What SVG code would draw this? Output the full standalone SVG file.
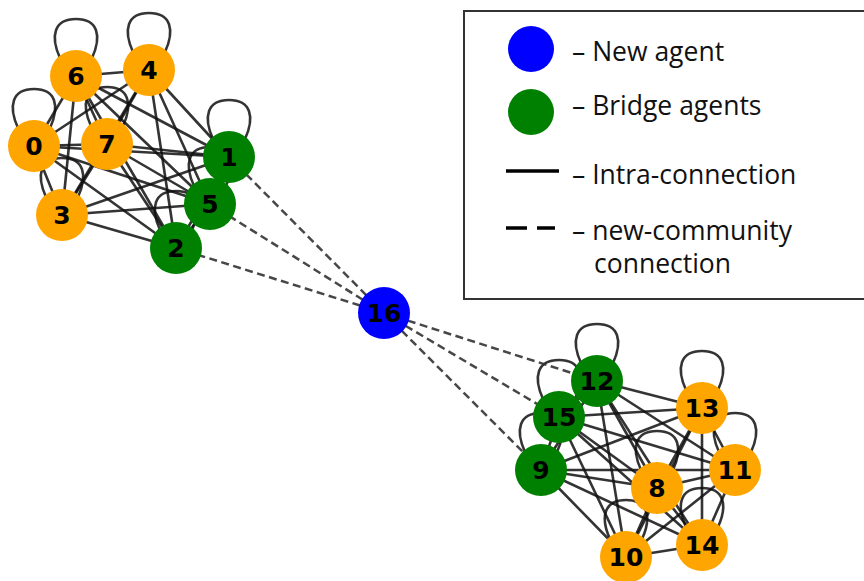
<svg xmlns="http://www.w3.org/2000/svg" xmlns:xlink="http://www.w3.org/1999/xlink" width="864" height="581" viewBox="0 0 864 581">
  <style>
    .edge { stroke: #111; stroke-opacity: 0.85; stroke-width: 2.6; fill: none; stroke-linecap: round; }
    .bridge { stroke: #333; stroke-opacity: 0.9; stroke-width: 2.5; fill: none; stroke-dasharray: 8 4.5; }
    .orange { fill: #FFA500; }
    .green { fill: #008000; }
    .blue { fill: #0000FF; }
    .lbl { font-family: "DejaVu Sans", sans-serif; font-weight: bold; font-size: 25px; fill: #000; text-anchor: middle; dominant-baseline: central; }
    .leg { font-family: "Open Sans", "Noto Sans", sans-serif; font-size: 26.5px; fill: #111; }
  </style>
  <defs>
    <path id="loop" d="M-16,-18 C-26,-40 -22,-57 0,-57 C22,-57 26,-40 16,-18"/>
  </defs>
  <rect width="864" height="581" fill="#fff"/>

  <!-- connectors -->
  <g id="connectors">
    <g id="self-loops" class="edge">
      <use xlink:href="#loop" x="34" y="146"/>
      <use xlink:href="#loop" x="229" y="157"/>
      <use xlink:href="#loop" x="176" y="248"/>
      <use xlink:href="#loop" x="62" y="215"/>
      <use xlink:href="#loop" x="149" y="70"/>
      <use xlink:href="#loop" x="210" y="204"/>
      <use xlink:href="#loop" x="76" y="76"/>
      <use xlink:href="#loop" x="107" y="144"/>
      <use xlink:href="#loop" x="657" y="488"/>
      <use xlink:href="#loop" x="541" y="470"/>
      <use xlink:href="#loop" x="626" y="557"/>
      <use xlink:href="#loop" x="735" y="470"/>
      <use xlink:href="#loop" x="597" y="381"/>
      <use xlink:href="#loop" x="702" y="408"/>
      <use xlink:href="#loop" x="702" y="545"/>
      <use xlink:href="#loop" x="559" y="417"/>
    </g>
    <g id="community-a" class="edge">
      <line x1="34" y1="146" x2="229" y2="157"/>
      <line x1="34" y1="146" x2="176" y2="248"/>
      <line x1="34" y1="146" x2="62" y2="215"/>
      <line x1="34" y1="146" x2="149" y2="70"/>
      <line x1="34" y1="146" x2="210" y2="204"/>
      <line x1="34" y1="146" x2="76" y2="76"/>
      <line x1="34" y1="146" x2="107" y2="144"/>
      <line x1="229" y1="157" x2="176" y2="248"/>
      <line x1="229" y1="157" x2="62" y2="215"/>
      <line x1="229" y1="157" x2="149" y2="70"/>
      <line x1="229" y1="157" x2="210" y2="204"/>
      <line x1="229" y1="157" x2="76" y2="76"/>
      <line x1="229" y1="157" x2="107" y2="144"/>
      <line x1="176" y1="248" x2="62" y2="215"/>
      <line x1="176" y1="248" x2="149" y2="70"/>
      <line x1="176" y1="248" x2="210" y2="204"/>
      <line x1="176" y1="248" x2="76" y2="76"/>
      <line x1="176" y1="248" x2="107" y2="144"/>
      <line x1="62" y1="215" x2="149" y2="70"/>
      <line x1="62" y1="215" x2="210" y2="204"/>
      <line x1="62" y1="215" x2="76" y2="76"/>
      <line x1="62" y1="215" x2="107" y2="144"/>
      <line x1="149" y1="70" x2="210" y2="204"/>
      <line x1="149" y1="70" x2="76" y2="76"/>
      <line x1="149" y1="70" x2="107" y2="144"/>
      <line x1="210" y1="204" x2="76" y2="76"/>
      <line x1="210" y1="204" x2="107" y2="144"/>
      <line x1="76" y1="76" x2="107" y2="144"/>
    </g>
    <g id="community-b" class="edge">
      <line x1="657" y1="488" x2="541" y2="470"/>
      <line x1="657" y1="488" x2="626" y2="557"/>
      <line x1="657" y1="488" x2="735" y2="470"/>
      <line x1="657" y1="488" x2="597" y2="381"/>
      <line x1="657" y1="488" x2="702" y2="408"/>
      <line x1="657" y1="488" x2="702" y2="545"/>
      <line x1="657" y1="488" x2="559" y2="417"/>
      <line x1="541" y1="470" x2="626" y2="557"/>
      <line x1="541" y1="470" x2="735" y2="470"/>
      <line x1="541" y1="470" x2="597" y2="381"/>
      <line x1="541" y1="470" x2="702" y2="408"/>
      <line x1="541" y1="470" x2="702" y2="545"/>
      <line x1="541" y1="470" x2="559" y2="417"/>
      <line x1="626" y1="557" x2="735" y2="470"/>
      <line x1="626" y1="557" x2="597" y2="381"/>
      <line x1="626" y1="557" x2="702" y2="408"/>
      <line x1="626" y1="557" x2="702" y2="545"/>
      <line x1="626" y1="557" x2="559" y2="417"/>
      <line x1="735" y1="470" x2="597" y2="381"/>
      <line x1="735" y1="470" x2="702" y2="408"/>
      <line x1="735" y1="470" x2="702" y2="545"/>
      <line x1="735" y1="470" x2="559" y2="417"/>
      <line x1="597" y1="381" x2="702" y2="408"/>
      <line x1="597" y1="381" x2="702" y2="545"/>
      <line x1="597" y1="381" x2="559" y2="417"/>
      <line x1="702" y1="408" x2="702" y2="545"/>
      <line x1="702" y1="408" x2="559" y2="417"/>
      <line x1="702" y1="545" x2="559" y2="417"/>
    </g>
    <g id="new-community" class="bridge">
      <line x1="384" y1="313" x2="229" y2="157"/>
      <line x1="384" y1="313" x2="210" y2="204"/>
      <line x1="384" y1="313" x2="176" y2="248"/>
      <line x1="384" y1="313" x2="597" y2="381"/>
      <line x1="384" y1="313" x2="559" y2="417"/>
      <line x1="384" y1="313" x2="541" y2="470"/>
    </g>
  </g>

  <!-- nodes -->
  <g id="node-0"><circle class="orange" cx="34" cy="146" r="26"/><text class="lbl" x="34" y="146">0</text></g>
  <g id="node-6"><circle class="orange" cx="76" cy="76" r="26"/><text class="lbl" x="76" y="76">6</text></g>
  <g id="node-4"><circle class="orange" cx="149" cy="70" r="26"/><text class="lbl" x="149" y="70">4</text></g>
  <g id="node-7"><circle class="orange" cx="107" cy="144" r="26"/><text class="lbl" x="107" y="144">7</text></g>
  <g id="node-3"><circle class="orange" cx="62" cy="215" r="26"/><text class="lbl" x="62" y="215">3</text></g>
  <g id="node-1"><circle class="green" cx="229" cy="157" r="26"/><text class="lbl" x="229" y="157">1</text></g>
  <g id="node-5"><circle class="green" cx="210" cy="204" r="26"/><text class="lbl" x="210" y="204">5</text></g>
  <g id="node-2"><circle class="green" cx="176" cy="248" r="26"/><text class="lbl" x="176" y="248">2</text></g>
  <g id="node-16"><circle class="blue" cx="384" cy="313" r="26"/><text class="lbl" x="384" y="313">16</text></g>
  <g id="node-12"><circle class="green" cx="597" cy="381" r="26"/><text class="lbl" x="597" y="381">12</text></g>
  <g id="node-15"><circle class="green" cx="559" cy="417" r="26"/><text class="lbl" x="559" y="417">15</text></g>
  <g id="node-9"><circle class="green" cx="541" cy="470" r="26"/><text class="lbl" x="541" y="470">9</text></g>
  <g id="node-13"><circle class="orange" cx="702" cy="408" r="26"/><text class="lbl" x="702" y="408">13</text></g>
  <g id="node-11"><circle class="orange" cx="735" cy="470" r="26"/><text class="lbl" x="735" y="470">11</text></g>
  <g id="node-8"><circle class="orange" cx="657" cy="488" r="26"/><text class="lbl" x="657" y="488">8</text></g>
  <g id="node-14"><circle class="orange" cx="702" cy="545" r="26"/><text class="lbl" x="702" y="545">14</text></g>
  <g id="node-10"><circle class="orange" cx="626" cy="557" r="26"/><text class="lbl" x="626" y="557">10</text></g>

  <!-- legend -->
  <g id="legend">
    <rect x="464" y="11" width="412" height="288" fill="#fff" stroke="#333" stroke-width="2"/>
    <circle class="blue" cx="531" cy="49" r="23"/>
    <circle class="green" cx="531" cy="112" r="23"/>
    <line x1="506" y1="171" x2="559" y2="171" stroke="#000" stroke-width="3.5"/>
    <line x1="506" y1="228" x2="555" y2="228" stroke="#000" stroke-width="3.5" stroke-dasharray="21 10"/>
    <text class="leg" x="572" y="61">– New agent</text>
    <text class="leg" x="572" y="115">– Bridge agents</text>
    <text class="leg" x="572" y="184">– Intra-connection</text>
    <text class="leg" x="572" y="240">– new-community</text>
    <text class="leg" x="594" y="273">connection</text>
  </g>
</svg>
